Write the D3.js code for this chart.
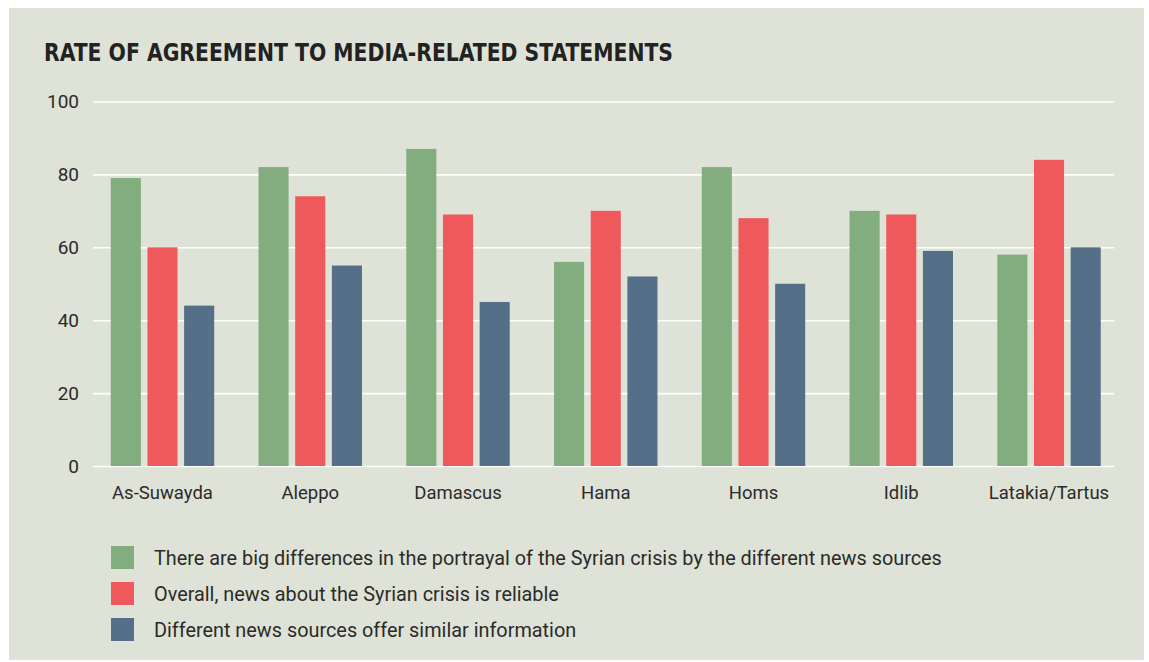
<!DOCTYPE html>
<html>
<head>
<meta charset="utf-8">
<script src="https://cdn.jsdelivr.net/npm/d3@7"></script>
<style>
  body { margin: 0; background: #fff; }
  text { font-family: "Roboto", sans-serif; fill: #2b2b2b; }
</style>
</head>
<body>
<div id="container"></div>
<script>
// data
const regions = ["As-Suwayda", "Aleppo", "Damascus", "Hama", "Homs", "Idlib", "Latakia/Tartus"];
const bigDifferences = [79, 82, 87, 56, 82, 70, 58];
const newsReliable = [60, 74, 69, 70, 68, 69, 84];
const similarInfo = [44, 55, 45, 52, 50, 59, 60];
const seriesNames = [
  "There are big differences in the portrayal of the Syrian crisis by the different news sources",
  "Overall, news about the Syrian crisis is reliable",
  "Different news sources offer similar information"
];
const yTicks = [0, 20, 40, 60, 80, 100];

const colors = ["#82ad7e", "#f0595b", "#546f87"];
const seriesValues = [bigDifferences, newsReliable, similarInfo];

const W = 1149, H = 662;

const svg = d3.select("#container").append("svg")
  .attr("width", W)
  .attr("height", H);

// panel background
svg.append("rect")
  .attr("x", 9).attr("y", 8)
  .attr("width", 1135).attr("height", 652)
  .attr("fill", "#dfe2d6");

// title (condensed bold, squeezed to the reference width)
svg.append("text")
  .attr("x", 44)
  .attr("y", 61)
  .attr("textLength", 629)
  .attr("lengthAdjust", "spacingAndGlyphs")
  .style("font-family", "'DejaVu Sans', sans-serif")
  .style("font-stretch", "condensed")
  .style("font-weight", "bold")
  .style("font-size", "24.5px")
  .style("fill", "#222")
  .text("RATE OF AGREEMENT TO MEDIA-RELATED STATEMENTS");

// scales
const x0 = d3.scaleBand()
  .domain(regions)
  .range([88.6, 1122.9])
  .paddingInner(0.3)
  .paddingOuter(0.15);

const x1 = d3.scaleBand()
  .domain(d3.range(3))
  .range([0, x0.bandwidth()])
  .paddingInner(0.18)
  .paddingOuter(0);

const y = d3.scaleLinear()
  .domain([0, 100])
  .range([466, 101.5]);

// grid lines
const grid = svg.append("g")
  .attr("transform", "translate(93,0)")
  .call(d3.axisLeft(y).tickValues(yTicks).tickSize(-1021).tickFormat(""))
  .call(g => g.select(".domain").remove());
grid.selectAll("line")
  .style("stroke", "#fff")
  .style("stroke-width", 1.6);

// y labels
svg.append("g")
  .selectAll("text")
  .data(yTicks)
  .enter()
  .append("text")
  .attr("x", 79)
  .attr("y", d => y(d))
  .attr("dy", "0.35em")
  .style("text-anchor", "end")
  .style("font-size", "19px")
  .text(d => d);

// bars
const groups = svg.append("g")
  .selectAll("g")
  .data(regions)
  .enter()
  .append("g")
  .attr("transform", d => `translate(${x0(d)},0)`);

groups.selectAll("rect")
  .data((d, i) => seriesValues.map((vals, s) => ({s: s, v: vals[i]})))
  .enter()
  .append("rect")
  .attr("x", d => x1(d.s))
  .attr("y", d => y(d.v))
  .attr("width", x1.bandwidth())
  .attr("height", d => y(0) - y(d.v))
  .attr("fill", d => colors[d.s]);

// category labels
svg.append("g")
  .selectAll("text")
  .data(regions)
  .enter()
  .append("text")
  .attr("x", d => x0(d) + x0.bandwidth() / 2)
  .attr("y", 499)
  .style("text-anchor", "middle")
  .style("font-size", "18.5px")
  .text(d => d);

// legend
const legend = svg.append("g")
  .selectAll("g")
  .data(seriesNames)
  .enter()
  .append("g")
  .attr("transform", (d, i) => `translate(111,${546 + i * 36})`);

legend.append("rect")
  .attr("width", 23)
  .attr("height", 23)
  .attr("fill", (d, i) => colors[i]);

legend.append("text")
  .attr("x", 43)
  .attr("y", 18.5)
  .style("font-size", "19.85px")
  .text(d => d);
</script>
</body>
</html>
